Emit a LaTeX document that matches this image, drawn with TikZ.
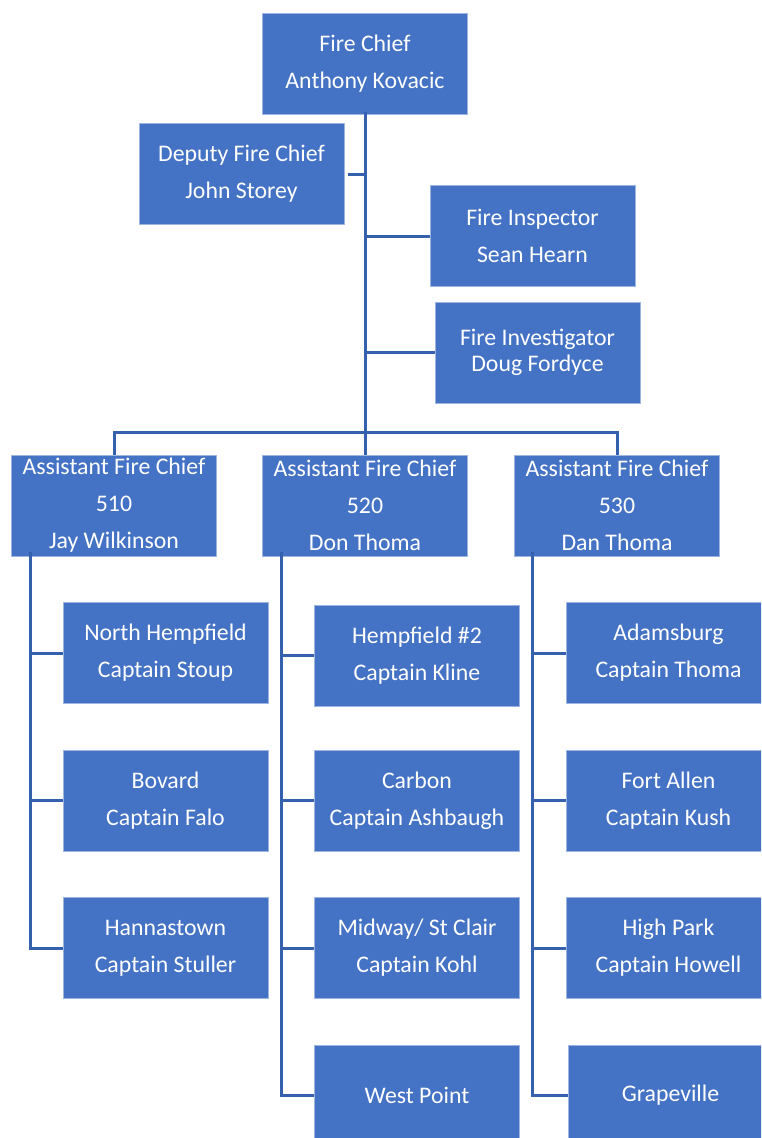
\documentclass[tikz,border=0pt]{standalone}
\usepackage{fontspec}
\setmainfont{Carlito}
\definecolor{boxblue}{HTML}{4472C4}
\definecolor{linkblue}{HTML}{3560AE}
\definecolor{rimblue}{HTML}{9DB5E0}
\tikzset{
  orgbox/.style={fill=boxblue, draw=rimblue, line width=0.8pt, text=white,
    minimum width=205pt, minimum height=101pt, inner sep=0pt, align=center,
    font=\fontsize{23.8}{37}\selectfont},
  tightbox/.style={orgbox, font=\fontsize{23.8}{26}\selectfont},
  link/.style={draw=linkblue, line width=3pt}
}
\begin{document}
\begin{tikzpicture}[x=1pt,y=-1pt]
\useasboundingbox (0,0) rectangle (761,1138);
\clip (0,0) rectangle (761,1138);
\fill[white] (0,0) rectangle (761,1138);
% top
\node[orgbox] (chief) at (365,64) {Fire Chief\\Anthony Kovacic};
\node[orgbox] (deputy) at (241.5,174) {Deputy Fire Chief\\John Storey};
\node[orgbox] (insp) at (532.5,236) {Fire Inspector\\Sean Hearn};
\node[tightbox] (invest) at (537.5,352.5) {Fire Investigator\\Doug Fordyce};
% assistants
\node[orgbox] (a1) at (114,505.5) {Assistant Fire Chief\\510\\Jay Wilkinson};
\node[orgbox] (a2) at (365,505.5) {Assistant Fire Chief\\520\\Don Thoma};
\node[orgbox] (a3) at (617,505.5) {Assistant Fire Chief\\530\\Dan Thoma};
% stations column 1
\node[orgbox] (s11) at (165.5,653) {North Hempfield\\Captain Stoup};
\node[orgbox] (s12) at (165.5,800.5) {Bovard\\Captain Falo};
\node[orgbox] (s13) at (165.5,948) {Hannastown\\Captain Stuller};
% column 2
\node[orgbox] (s21) at (417,655.5) {Hempfield \#2\\Captain Kline};
\node[orgbox] (s22) at (417,800.5) {Carbon\\Captain Ashbaugh};
\node[orgbox] (s23) at (417,948) {Midway/ St Clair\\Captain Kohl};
\node[orgbox] (s24) at (417,1095.5) {West Point};
% column 3
\node[orgbox] (s31) at (668.5,653) {Adamsburg\\Captain Thoma};
\node[orgbox] (s32) at (668.5,800.5) {Fort Allen\\Captain Kush};
\node[orgbox] (s33) at (668.5,948) {High Park\\Captain Howell};
\node[orgbox] (s34) at (670.5,1095.5) {Grapeville};
% connectors
\coordinate (bar) at (365,432);
\draw[link] ([yshift=3]chief.south) -- (a2.north);
\draw[link] ([xshift=4]deputy.east) -- (deputy.east -| chief.south);
\draw[link] (insp.west) -- (insp.west -| chief.south);
\draw[link] (invest.west) -- (invest.west -| chief.south);
\draw[link] (a1.north) |- (bar) -| (a3.north);
\coordinate (v1) at ([xshift=19,yshift=4]a1.south west);
\coordinate (v2) at ([xshift=19,yshift=4]a2.south west);
\coordinate (v3) at ([xshift=18,yshift=4]a3.south west);
\draw[link] (v1) |- (s13.west);
\draw[link] (s11.west) -- (s11.west -| v1);
\draw[link] (s12.west) -- (s12.west -| v1);
\draw[link] (v2) |- (s24.west);
\draw[link] (s21.west) -- (s21.west -| v2);
\draw[link] (s22.west) -- (s22.west -| v2);
\draw[link] (s23.west) -- (s23.west -| v2);
\draw[link] (v3) |- (s34.west);
\draw[link] (s31.west) -- (s31.west -| v3);
\draw[link] (s32.west) -- (s32.west -| v3);
\draw[link] (s33.west) -- (s33.west -| v3);
\end{tikzpicture}
\end{document}
